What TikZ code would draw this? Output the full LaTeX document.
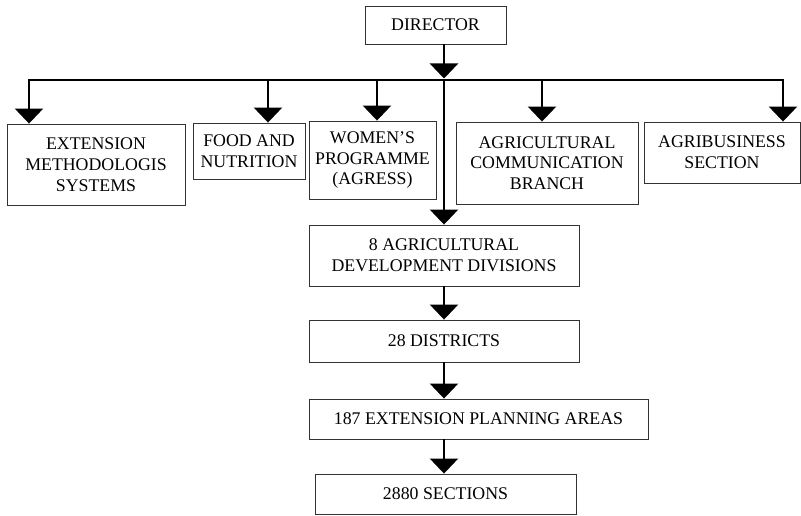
\documentclass[tikz,border=0pt]{standalone}
\usepackage{fontspec}
\setmainfont{Liberation Serif}
\usetikzlibrary{arrows.meta}
\begin{document}
\begin{tikzpicture}[x=1pt,y=1pt,
  box/.style={draw=black!80,line width=0.9pt,inner sep=0pt,align=center,
    font=\fontsize{17.8}{20.8}\selectfont},
  arr/.style={line width=2.6pt,-{Triangle[width=28pt,length=15pt]}},
  barline/.style={line width=2.6pt,line cap=rect}]
\useasboundingbox (0,0) rectangle (801,-516);
% boxes
\node[box,minimum width=141pt,minimum height=38pt] (dir) at (435.5,-25) {DIRECTOR};
\node[box,minimum width=178pt,minimum height=81pt] (ext) at (96,-164.5) {EXTENSION\\METHODOLOGIS\\SYSTEMS};
\node[box,minimum width=112pt,minimum height=56pt] (food) at (249,-151) {FOOD AND\\NUTRITION};
\node[box,minimum width=127pt,minimum height=78pt] (wom) at (372.5,-160) {WOMEN'S\\PROGRAMME\\(AGRESS)};
\node[box,minimum width=182pt,minimum height=82pt] (comm) at (547,-163) {AGRICULTURAL\\COMMUNICATION\\BRANCH};
\node[box,minimum width=156pt,minimum height=61pt] (agb) at (722,-152.5) {AGRIBUSINESS\\SECTION};
\node[box,minimum width=270pt,minimum height=61pt] (add) at (444,-255.5) {8 AGRICULTURAL\\DEVELOPMENT DIVISIONS};
\node[box,minimum width=270pt,minimum height=42pt] (dist) at (444,-341) {28 DISTRICTS};
\node[box,minimum width=339pt,minimum height=40pt] (epa) at (478.5,-419) {187 EXTENSION PLANNING AREAS};
\node[box,minimum width=261pt,minimum height=40pt] (sec) at (445.5,-494) {2880 SECTIONS};
% bar coordinates
\coordinate (barL) at (29,-80);
\coordinate (barR) at (783,-80);
\coordinate (bFood) at (268,-80);
\coordinate (bWom) at (377,-80);
\coordinate (bMid) at (444,-80);
\coordinate (bComm) at (542,-80);
\coordinate (dirTip) at (444,-78.5);
% connectors
\draw[arr] (dir.south -| bMid) -- (dirTip);
\draw[barline] (barL) -- (barR);
\draw[arr] (barL) -- (barL |- ext.north);
\draw[arr] (bFood) -- (bFood |- food.north);
\draw[arr] (bWom) -- (bWom |- wom.north);
\draw[arr] (bComm) -- (bComm |- comm.north);
\draw[arr] (barR) -- (barR |- agb.north);
\draw[arr] (bMid) -- (bMid |- add.north);
\draw[arr] (add.south -| bMid) -- (bMid |- dist.north);
\draw[arr] (dist.south -| bMid) -- (bMid |- epa.north);
\draw[arr] (epa.south -| bMid) -- (bMid |- sec.north);
\end{tikzpicture}
\end{document}
